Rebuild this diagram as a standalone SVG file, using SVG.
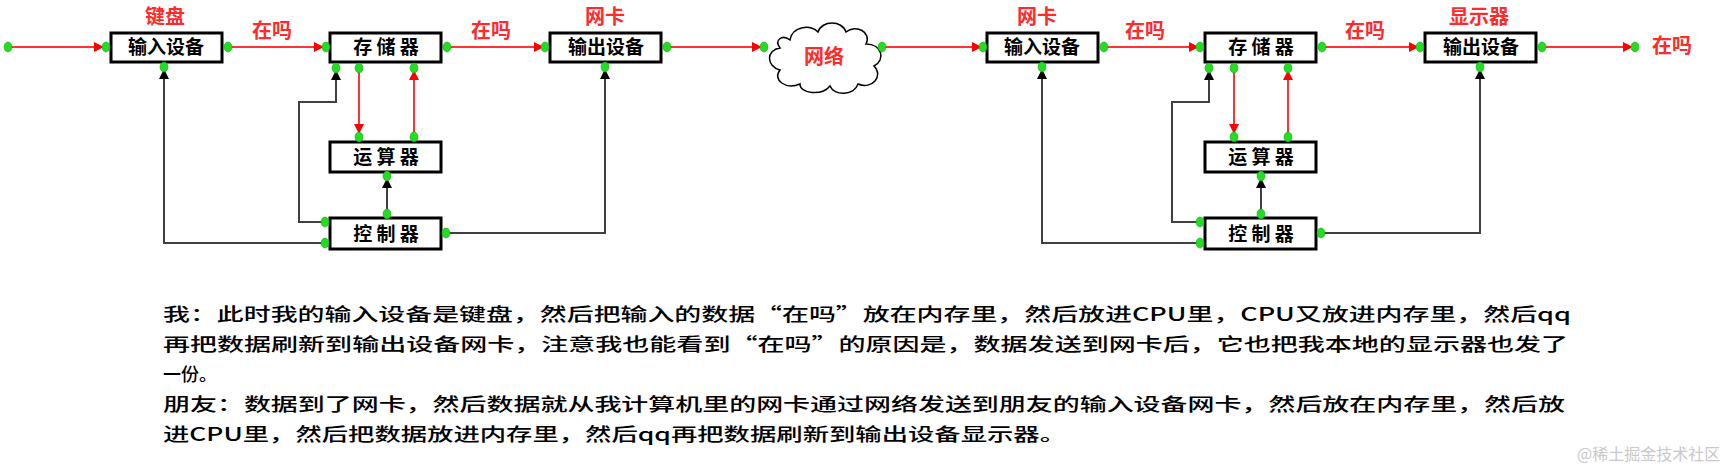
<svg xmlns="http://www.w3.org/2000/svg" width="1733" height="476" viewBox="0 0 1733 476">
<defs>
<marker id="ar" viewBox="0 0 10 10" refX="10" refY="5" markerWidth="10" markerHeight="10" markerUnits="userSpaceOnUse" orient="auto"><path d="M0,0L10,5L0,10z" fill="#ff0000"/></marker>
<marker id="ab" viewBox="0 0 10 10" refX="10" refY="5" markerWidth="10" markerHeight="10" markerUnits="userSpaceOnUse" orient="auto"><path d="M0,0L10,5L0,10z" fill="#000"/></marker>
<style>
.box{fill:#fff;stroke:#000;stroke-width:3}
.bt{font-family:"Noto Sans CJK SC",serif;font-size:19px;font-weight:bold;text-anchor:middle;fill:#000}
.rl{font-family:"Noto Sans CJK SC",serif;font-size:20px;font-weight:bold;fill:#ff2a2a;text-anchor:middle}
.r{stroke:#ff3333;stroke-width:2;fill:none}
.k{stroke:#404040;stroke-width:2;fill:none}
.d{fill:#22dd22;stroke:#119911;stroke-width:0.5}
.p{font-family:"Noto Sans CJK SC",serif;font-size:18px;font-weight:500;fill:#000}
</style>
</defs>
<g id="connectors">
<path class="r" d="M8,47H104" marker-end="url(#ar)"/>
<path class="r" d="M228,47H324" marker-end="url(#ar)"/>
<path class="r" d="M447,47H544" marker-end="url(#ar)"/>
<path class="r" d="M667,47H762" marker-end="url(#ar)"/>
<path class="r" d="M882,47H982" marker-end="url(#ar)"/>
<path class="r" d="M1104,47H1199" marker-end="url(#ar)"/>
<path class="r" d="M1322,47H1419" marker-end="url(#ar)"/>
<path class="r" d="M1542,47H1633" marker-end="url(#ar)"/>
<path class="r" d="M359,68V134" marker-end="url(#ar)"/>
<path class="r" d="M414,136V70" marker-end="url(#ar)"/>
<path class="r" d="M1234,68V134" marker-end="url(#ar)"/>
<path class="r" d="M1288,136V70" marker-end="url(#ar)"/>
<path class="k" d="M387,214V178" marker-end="url(#ab)"/>
<path class="k" d="M325,222H299V102H336V70" marker-end="url(#ab)"/>
<path class="k" d="M325,243H164V69" marker-end="url(#ab)"/>
<path class="k" d="M446,233H605V69" marker-end="url(#ab)"/>
<path class="k" d="M1261,214V178" marker-end="url(#ab)"/>
<path class="k" d="M1200,222H1172V102H1209V70" marker-end="url(#ab)"/>
<path class="k" d="M1200,243H1042V69" marker-end="url(#ab)"/>
<path class="k" d="M1321,233H1480V69" marker-end="url(#ab)"/>
</g>
<g id="cloud">
<path d="M790,40 C792,26 812,24 818,32 C822,20 842,20 846,32 C856,24 872,32 866,44 C882,44 886,60 874,66 C884,76 872,90 858,84 C854,96 834,96 830,86 C822,96 800,94 800,84 C786,90 772,80 780,70 C766,66 766,50 780,48 C774,40 782,34 790,40 Z" fill="#fff" stroke="#000" stroke-width="1.5"/>
<text class="rl" x="824" y="64" font-weight="normal">网络</text>
</g>
<g id="input1"><rect class="box" x="111" y="33" width="111" height="29"/><text class="bt" x="166" y="54">输入设备</text></g>
<g id="mem1"><rect class="box" x="330" y="33" width="111" height="29"/><text class="bt" x="386" y="54">存 储 器</text></g>
<g id="out1"><rect class="box" x="550" y="33" width="111" height="29"/><text class="bt" x="606" y="54">输出设备</text></g>
<g id="alu1"><rect class="box" x="330" y="142" width="111" height="30"/><text class="bt" x="386" y="164">运 算 器</text></g>
<g id="ctl1"><rect class="box" x="330" y="218" width="111" height="31"/><text class="bt" x="386" y="241">控 制 器</text></g>
<g id="input2"><rect class="box" x="987" y="33" width="111" height="29"/><text class="bt" x="1042" y="54">输入设备</text></g>
<g id="mem2"><rect class="box" x="1205" y="33" width="111" height="29"/><text class="bt" x="1261" y="54">存 储 器</text></g>
<g id="out2"><rect class="box" x="1425" y="33" width="111" height="29"/><text class="bt" x="1481" y="54">输出设备</text></g>
<g id="alu2"><rect class="box" x="1205" y="142" width="111" height="30"/><text class="bt" x="1261" y="164">运 算 器</text></g>
<g id="ctl2"><rect class="box" x="1205" y="218" width="111" height="31"/><text class="bt" x="1261" y="241">控 制 器</text></g>
<g id="labels">
<text class="rl" x="165" y="24">键盘</text>
<text class="rl" x="272" y="38">在吗</text>
<text class="rl" x="491" y="38">在吗</text>
<text class="rl" x="605" y="24">网卡</text>
<text class="rl" x="1037" y="24">网卡</text>
<text class="rl" x="1145" y="38">在吗</text>
<text class="rl" x="1365" y="38">在吗</text>
<text class="rl" x="1479" y="24">显示器</text>
<text class="rl" x="1672" y="53">在吗</text>
</g>
<g id="dots">
<ellipse class="d" cx="8" cy="47" rx="4" ry="5"/>
<ellipse class="d" cx="106" cy="47" rx="4" ry="5"/><ellipse class="d" cx="228" cy="47" rx="4" ry="5"/>
<ellipse class="d" cx="326" cy="47" rx="4" ry="5"/><ellipse class="d" cx="447" cy="47" rx="4" ry="5"/>
<ellipse class="d" cx="545" cy="47" rx="4" ry="5"/><ellipse class="d" cx="667" cy="47" rx="4" ry="5"/>
<ellipse class="d" cx="764" cy="47" rx="4" ry="5"/><ellipse class="d" cx="882" cy="47" rx="4" ry="5"/>
<ellipse class="d" cx="983" cy="47" rx="4" ry="5"/><ellipse class="d" cx="1104" cy="47" rx="4" ry="5"/>
<ellipse class="d" cx="1200" cy="47" rx="4" ry="5"/><ellipse class="d" cx="1322" cy="47" rx="4" ry="5"/>
<ellipse class="d" cx="1420" cy="47" rx="4" ry="5"/><ellipse class="d" cx="1542" cy="47" rx="4" ry="5"/>
<ellipse class="d" cx="1635" cy="47" rx="4" ry="5"/>
<ellipse class="d" cx="164" cy="67" rx="4" ry="5"/><ellipse class="d" cx="605" cy="67" rx="4" ry="5"/>
<ellipse class="d" cx="336" cy="68" rx="4" ry="5"/><ellipse class="d" cx="359" cy="68" rx="4" ry="5"/><ellipse class="d" cx="414" cy="68" rx="4" ry="5"/>
<ellipse class="d" cx="359" cy="137" rx="4" ry="5"/><ellipse class="d" cx="414" cy="137" rx="4" ry="5"/>
<ellipse class="d" cx="387" cy="176" rx="4" ry="5"/><ellipse class="d" cx="387" cy="214" rx="4" ry="5"/>
<ellipse class="d" cx="325" cy="222" rx="4" ry="5"/><ellipse class="d" cx="325" cy="243" rx="4" ry="5"/><ellipse class="d" cx="446" cy="233" rx="4" ry="5"/>
<ellipse class="d" cx="1042" cy="67" rx="4" ry="5"/><ellipse class="d" cx="1480" cy="67" rx="4" ry="5"/>
<ellipse class="d" cx="1209" cy="68" rx="4" ry="5"/><ellipse class="d" cx="1234" cy="68" rx="4" ry="5"/><ellipse class="d" cx="1288" cy="68" rx="4" ry="5"/>
<ellipse class="d" cx="1234" cy="137" rx="4" ry="5"/><ellipse class="d" cx="1288" cy="137" rx="4" ry="5"/>
<ellipse class="d" cx="1261" cy="176" rx="4" ry="5"/><ellipse class="d" cx="1261" cy="214" rx="4" ry="5"/>
<ellipse class="d" cx="1200" cy="222" rx="4" ry="5"/><ellipse class="d" cx="1200" cy="243" rx="4" ry="5"/><ellipse class="d" cx="1321" cy="233" rx="4" ry="5"/>
</g>
<g id="paragraph">
<text class="p" x="163" y="321" textLength="1408" lengthAdjust="spacingAndGlyphs">我：此时我的输入设备是键盘，然后把输入的数据“在吗”放在内存里，然后放进CPU里，CPU又放进内存里，然后qq</text>
<text class="p" x="163" y="351" textLength="1405" lengthAdjust="spacingAndGlyphs">再把数据刷新到输出设备网卡，注意我也能看到“在吗”的原因是，数据发送到网卡后，它也把我本地的显示器也发了</text>
<text class="p" x="163" y="381">一份。</text>
<text class="p" x="163" y="411" textLength="1402" lengthAdjust="spacingAndGlyphs">朋友：数据到了网卡，然后数据就从我计算机里的网卡通过网络发送到朋友的输入设备网卡，然后放在内存里，然后放</text>
<text class="p" x="163" y="441" textLength="903" lengthAdjust="spacingAndGlyphs">进CPU里，然后把数据放进内存里，然后qq再把数据刷新到输出设备显示器。</text>
<text x="1577" y="460" font-family="Noto Sans CJK SC,sans-serif" font-size="16" fill="#c8c8c8">@稀土掘金技术社区</text>
</g>
</svg>
